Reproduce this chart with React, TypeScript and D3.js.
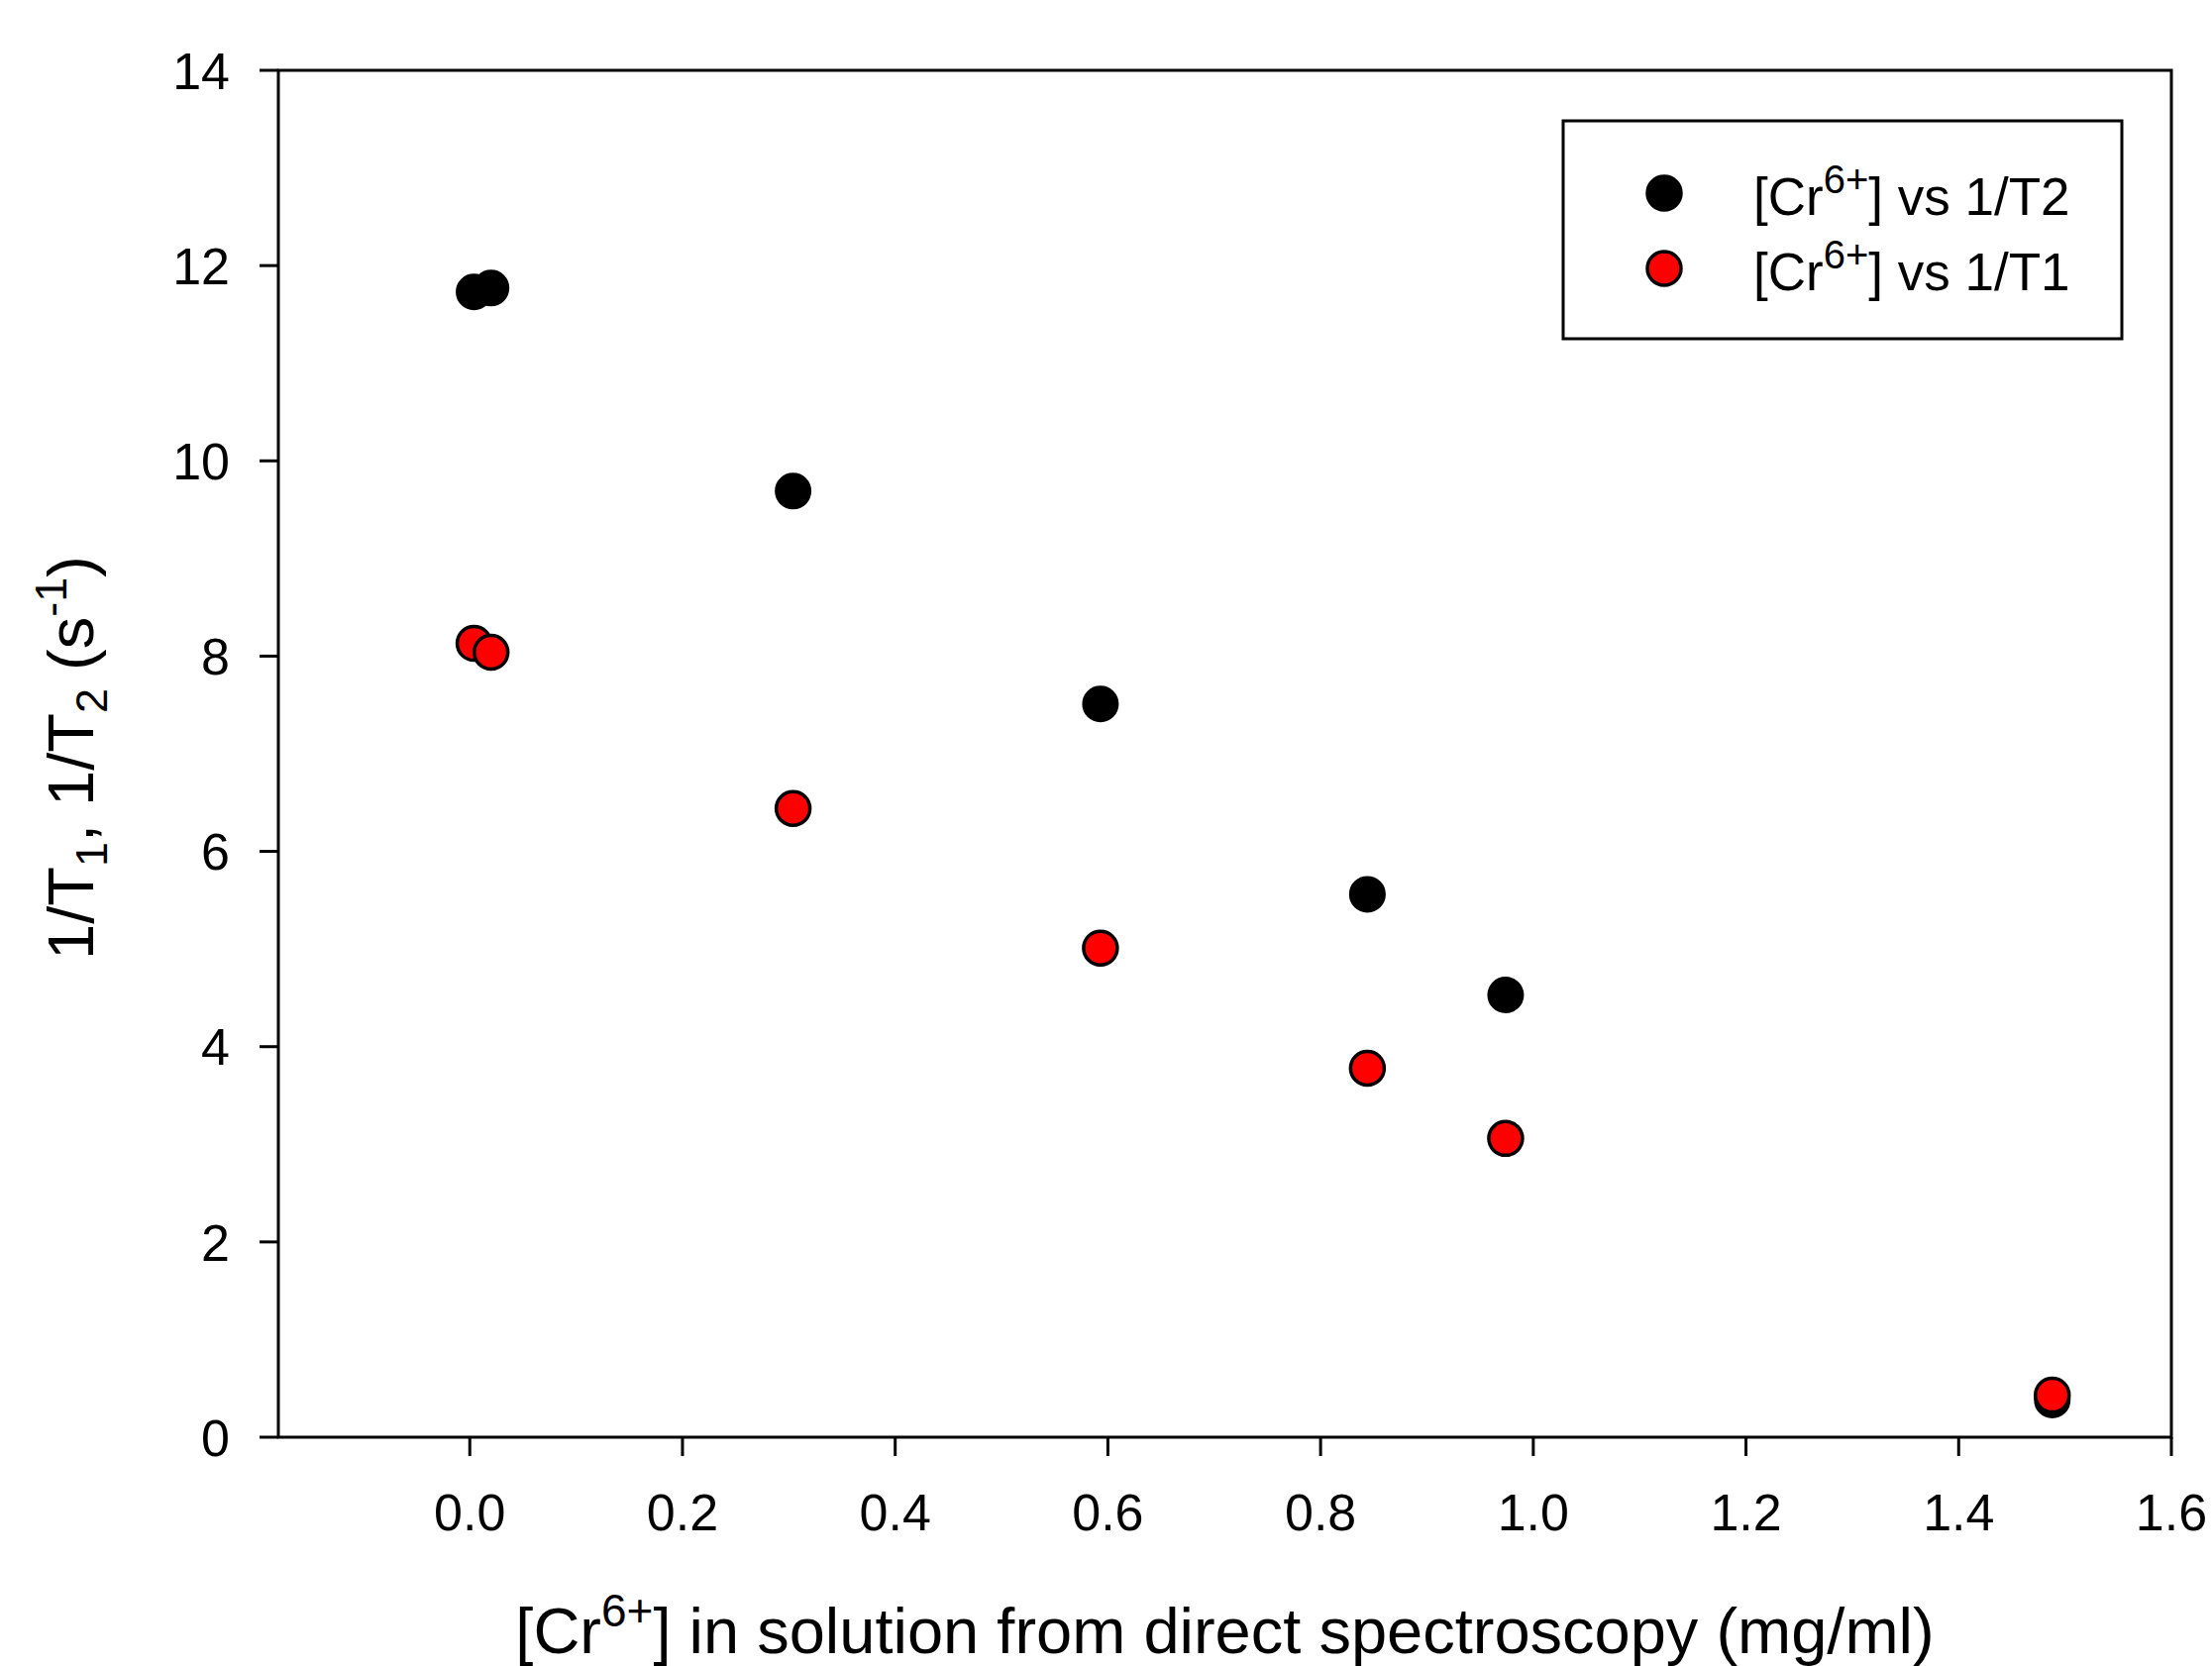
import React from "react";
import * as d3 from "d3";

const concentration = [0.004, 0.02, 0.304, 0.593, 0.844, 0.974, 1.488];
const concentrationT1 = [0.004, 0.02, 0.304, 0.593, 0.844, 0.974, 1.488];
const invT2 = [11.73, 11.77, 9.69, 7.51, 5.56, 4.53, 0.38];
const invT1 = [8.13, 8.04, 6.44, 5.01, 3.78, 3.06, 0.43];
const xTicks = [0, 0.2, 0.4, 0.6, 0.8, 1.0, 1.2, 1.4, 1.6];
const yTicks = [0, 2, 4, 6, 8, 10, 12, 14];
const legendLabels = ["vs 1/T2", "vs 1/T1"];

const W = 2233;
const H = 1682;
const L = 281;
const R = 2192;
const T = 71;
const B = 1451;
const FONT = "'Liberation Sans', Arial, Helvetica, sans-serif";

export default function App() {
  const x = d3.scaleLinear().domain([-0.18, 1.6]).range([L, R]);
  const y = d3.scaleLinear().domain([0, 14]).range([B, T]);
  const fmt = d3.format(".1f");
  const tickFont = 52;
  const tickLen = 19;
  const rMark = 17;

  const black = concentration.map((c, i) => ({ c, v: invT2[i] }));
  const red = concentrationT1.map((c, i) => ({ c, v: invT1[i] }));

  const legendX = 1578;
  const legendY = 122;
  const legendW = 564;
  const legendH = 220;
  const legendRows = [
    { y: 195, fill: "#000000", label: legendLabels[0] },
    { y: 271, fill: "#ff0000", label: legendLabels[1] },
  ];

  return (
    <svg
      width={W}
      height={H}
      style={{ position: "absolute", left: 0, top: 0, background: "#fff" }}
      fontFamily={FONT}
    >
      <rect x={0} y={0} width={W} height={H} fill="#fff" />
      <rect x={L} y={T} width={R - L} height={B - T} fill="none" stroke="#000" strokeWidth={3} />
      {yTicks.map((t) => (
        <g key={"y" + t}>
          <line x1={L - tickLen} x2={L} y1={y(t)} y2={y(t)} stroke="#000" strokeWidth={3} />
          <text x={232} y={y(t)} dy="0.36em" textAnchor="end" fontSize={tickFont} fill="#000">
            {t}
          </text>
        </g>
      ))}
      {xTicks.map((t) => (
        <g key={"x" + t}>
          <line x1={x(t)} x2={x(t)} y1={B} y2={B + tickLen} stroke="#000" strokeWidth={3} />
          <text x={x(t)} y={1545} textAnchor="middle" fontSize={tickFont} fill="#000">
            {fmt(t)}
          </text>
        </g>
      ))}
      <text x={(L + R) / 2} y={1669} textAnchor="middle" fontSize={65} fill="#000">
        [Cr
        <tspan fontSize={46} dy={-27}>6+</tspan>
        <tspan dy={27}>] in solution from direct spectroscopy (mg/ml)</tspan>
      </text>
      <text
        transform={`translate(94, ${(T + B) / 2 + 4}) rotate(-90)`}
        textAnchor="middle"
        fontSize={65}
        fill="#000"
      >
        1/T
        <tspan fontSize={45} dy={14}>1</tspan>
        <tspan dy={-14}>, 1/T</tspan>
        <tspan fontSize={45} dy={14}>2</tspan>
        <tspan dy={-14}> (s</tspan>
        <tspan fontSize={45} dy={-27}>-1</tspan>
        <tspan dy={27}>)</tspan>
      </text>
      {black.map((d, i) => (
        <circle key={"b" + i} cx={x(d.c)} cy={y(d.v)} r={rMark} fill="#000" stroke="#000" strokeWidth={3} />
      ))}
      {red.map((d, i) => (
        <circle key={"r" + i} cx={x(d.c)} cy={y(d.v)} r={rMark} fill="#ff0000" stroke="#000" strokeWidth={3.5} />
      ))}
      <rect x={legendX} y={legendY} width={legendW} height={legendH} fill="#fff" stroke="#000" strokeWidth={3} />
      {legendRows.map((row, i) => (
        <g key={"l" + i}>
          <circle cx={1680} cy={row.y} r={rMark} fill={row.fill} stroke="#000" strokeWidth={3.5} />
          <text x={1770} y={row.y + 22} fontSize={53} fill="#000">
            [Cr
            <tspan fontSize={40} dy={-22}>6+</tspan>
            <tspan dy={22}>] {row.label}</tspan>
          </text>
        </g>
      ))}
    </svg>
  );
}
